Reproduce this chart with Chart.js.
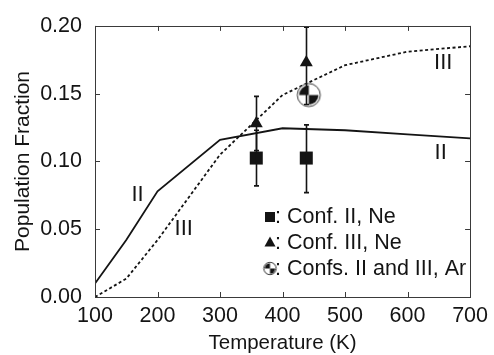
<!DOCTYPE html>
<html>
<head>
<meta charset="utf-8">
<script src="https://cdn.jsdelivr.net/npm/chart.js@4/dist/chart.umd.min.js"></script>
<style>
  html, body { margin: 0; padding: 0; background: #fff; }
  canvas { display: block; }
</style>
</head>
<body>
<canvas id="chart" width="494" height="355"></canvas>
<script>
// Calculated population fractions of conformers II and III vs. temperature
const temperatures = [100, 150, 200, 300, 400, 500, 600, 700];
const fractionII   = [0.010, 0.042, 0.078, 0.116, 0.1245, 0.123, 0.120, 0.117];
const fractionIII  = [0.000, 0.0135, 0.042, 0.105, 0.149, 0.171, 0.181, 0.185];

// Measured fractions (Ne matrix) with error limits
const neTempII  = [358, 438];
const neFracII  = [0.1025, 0.1025];
const neLowII   = [0.082, 0.077];
const neHighII  = [0.123, 0.127];

const neTempIII = [358, 438];
const neFracIII = [0.128, 0.173];
const neLowIII  = [0.108, 0.142];
const neHighIII = [0.148, 0.199];

// Ar matrix, conformers II and III together
const arTemp = [442];
const arFrac = [0.149];

const xTickValues = [100, 200, 300, 400, 500, 600, 700];
const yTickValues = [0.00, 0.05, 0.10, 0.15, 0.20];

const FONT = '"Liberation Sans", Arial, Helvetica, sans-serif';
const INK = '#141414';

function toXY(xs, ys) { return xs.map((x, i) => ({ x: x, y: ys[i] })); }

// Circle with two opposite black quadrants
function quadrantMarker(r) {
  const s = Math.ceil(r * 2 + 4);
  const c = document.createElement('canvas');
  c.width = s; c.height = s;
  const g = c.getContext('2d');
  const m = s / 2;
  g.fillStyle = '#fff';
  g.beginPath(); g.arc(m, m, r, 0, 2 * Math.PI); g.fill();
  g.fillStyle = INK;
  const rin = r * 0.84;
  g.beginPath(); g.moveTo(m, m); g.arc(m, m, rin, Math.PI, 1.5 * Math.PI); g.closePath(); g.fill();
  g.beginPath(); g.moveTo(m, m); g.arc(m, m, rin, 0, 0.5 * Math.PI); g.closePath(); g.fill();
  g.strokeStyle = '#333'; g.lineWidth = 1;
  g.beginPath(); g.arc(m, m, r, 0, 2 * Math.PI); g.stroke();
  return c;
}
const arMarkerBig = quadrantMarker(11.5);
const arMarkerSmall = quadrantMarker(6.2);

const errorSets = [
  { xs: neTempII,  lo: neLowII,  hi: neHighII },
  { xs: neTempIII, lo: neLowIII, hi: neHighIII }
];

// Error bars, drawn with the chart's own scales
const errorBarPlugin = {
  id: 'errorBars',
  afterDatasetsDraw(chart) {
    const { ctx, scales: { x, y } } = chart;
    ctx.save();
    ctx.strokeStyle = INK;
    ctx.lineWidth = 1.6;
    errorSets.forEach(set => {
      set.xs.forEach((t, i) => {
        const px = Math.round(x.getPixelForValue(t)) + 0.5;
        const y1 = y.getPixelForValue(set.lo[i]);
        const y2 = y.getPixelForValue(set.hi[i]);
        ctx.beginPath();
        ctx.moveTo(px, y1); ctx.lineTo(px, y2);
        ctx.moveTo(px - 2.5, y1); ctx.lineTo(px + 2.5, y1);
        ctx.moveTo(px - 2.5, y2); ctx.lineTo(px + 2.5, y2);
        ctx.stroke();
      });
    });
    ctx.restore();
  }
};

// Curve names placed in data coordinates
const curveNames = [
  { text: 'II',  t: 168, v: 0.0755 },
  { text: 'III', t: 242, v: 0.050 },
  { text: 'III', t: 657, v: 0.1725 },
  { text: 'II',  t: 653, v: 0.1065 }
];

const framePlugin = {
  id: 'frameAndLabels',
  afterDraw(chart) {
    const { ctx, chartArea: a, scales: { x, y } } = chart;
    ctx.save();
    // frame
    ctx.strokeStyle = '#3a3a3a';
    ctx.lineWidth = 1;
    ctx.strokeRect(Math.round(a.left) + 0.5, Math.round(a.top) + 0.5,
                   Math.round(a.right - a.left), Math.round(a.bottom - a.top));
    // inward ticks on all four sides
    const tl = 5;
    ctx.beginPath();
    x.ticks.forEach(tk => {
      const px = Math.round(x.getPixelForValue(tk.value)) + 0.5;
      ctx.moveTo(px, a.bottom); ctx.lineTo(px, a.bottom - tl);
      ctx.moveTo(px, a.top); ctx.lineTo(px, a.top + tl);
    });
    y.ticks.forEach(tk => {
      const py = Math.round(y.getPixelForValue(tk.value)) + 0.5;
      ctx.moveTo(a.left, py); ctx.lineTo(a.left + tl, py);
      ctx.moveTo(a.right, py); ctx.lineTo(a.right - tl, py);
    });
    ctx.stroke();

    // curve names
    ctx.fillStyle = INK;
    ctx.font = '22px ' + FONT;
    ctx.textAlign = 'center';
    ctx.textBaseline = 'middle';
    curveNames.forEach(n => {
      ctx.fillText(n.text, x.getPixelForValue(n.t), y.getPixelForValue(n.v));
    });

    // key
    const kx = 270, tx = 275;
    const rows = [
      { base: 222.5, mid: 217, text: ': Conf. II, Ne' },
      { base: 248.5, mid: 242, text: ': Conf. III, Ne' },
      { base: 275,   mid: 268.5, text: ': Confs. II and III, Ar' }
    ];
    ctx.textAlign = 'left';
    ctx.textBaseline = 'alphabetic';
    ctx.font = '21.5px ' + FONT;
    rows.forEach(r => ctx.fillText(r.text, tx, r.base));
    ctx.fillRect(kx - 5, rows[0].mid - 5, 10, 10);
    ctx.beginPath();
    ctx.moveTo(kx, rows[1].mid - 5.5);
    ctx.lineTo(kx + 5.5, rows[1].mid + 4.5);
    ctx.lineTo(kx - 5.5, rows[1].mid + 4.5);
    ctx.closePath(); ctx.fill();
    ctx.drawImage(arMarkerSmall, kx - arMarkerSmall.width / 2, rows[2].mid - arMarkerSmall.height / 2);
    ctx.restore();
  }
};

new Chart(document.getElementById('chart'), {
  type: 'scatter',
  data: {
    datasets: [
      {
        label: 'II (calc.)',
        data: toXY(temperatures, fractionII),
        showLine: true, borderColor: INK, borderWidth: 1.8,
        pointRadius: 0, tension: 0, order: 5
      },
      {
        label: 'III (calc.)',
        data: toXY(temperatures, fractionIII),
        showLine: true, borderColor: INK, borderWidth: 1.8, borderDash: [3, 2.5],
        pointRadius: 0, tension: 0, order: 4
      },
      {
        label: 'Conf. II, Ne',
        data: toXY(neTempII, neFracII),
        pointStyle: 'rect', pointRadius: 9.2, backgroundColor: INK, borderWidth: 0, order: 3
      },
      {
        label: 'Conf. III, Ne',
        data: toXY(neTempIII, neFracIII),
        pointStyle: 'triangle', pointRadius: 7.5, backgroundColor: INK, borderWidth: 0, order: 2
      },
      {
        label: 'Confs. II and III, Ar',
        data: toXY(arTemp, arFrac),
        pointStyle: arMarkerBig, pointRadius: 12, borderWidth: 0, order: 1
      }
    ]
  },
  options: {
    responsive: false,
    animation: false,
    devicePixelRatio: 1,
    layout: { padding: { top: 22, right: 19, left: 0, bottom: 0 } },
    plugins: { legend: { display: false }, tooltip: { enabled: false } },
    scales: {
      x: {
        type: 'linear', min: 100, max: 700,
        afterBuildTicks: s => { s.ticks = xTickValues.map(v => ({ value: v })); },
        afterFit: s => { s.height = 58; },
        grid: { display: false, drawTicks: false },
        border: { display: false },
        ticks: { color: INK, font: { family: FONT, size: 21.5 }, padding: 6, maxRotation: 0, autoSkip: false },
        title: { display: true, text: 'Temperature (K)', color: INK,
                 font: { family: FONT, size: 20.5, lineHeight: 1 }, padding: { top: 0, bottom: 1 } }
      },
      y: {
        type: 'linear', min: 0, max: 0.2,
        afterBuildTicks: s => { s.ticks = yTickValues.map(v => ({ value: v })); },
        afterFit: s => { s.width = 95; },
        grid: { display: false, drawTicks: false },
        border: { display: false },
        ticks: { color: INK, font: { family: FONT, size: 21.5 }, padding: 13,
                 callback: v => Number(v).toFixed(2) },
        title: { display: true, text: 'Population Fraction', color: INK,
                 font: { family: FONT, size: 21, lineHeight: 1 }, padding: { top: 13, bottom: 0 } }
      }
    }
  },
  plugins: [errorBarPlugin, framePlugin]
});
</script>
</body>
</html>
